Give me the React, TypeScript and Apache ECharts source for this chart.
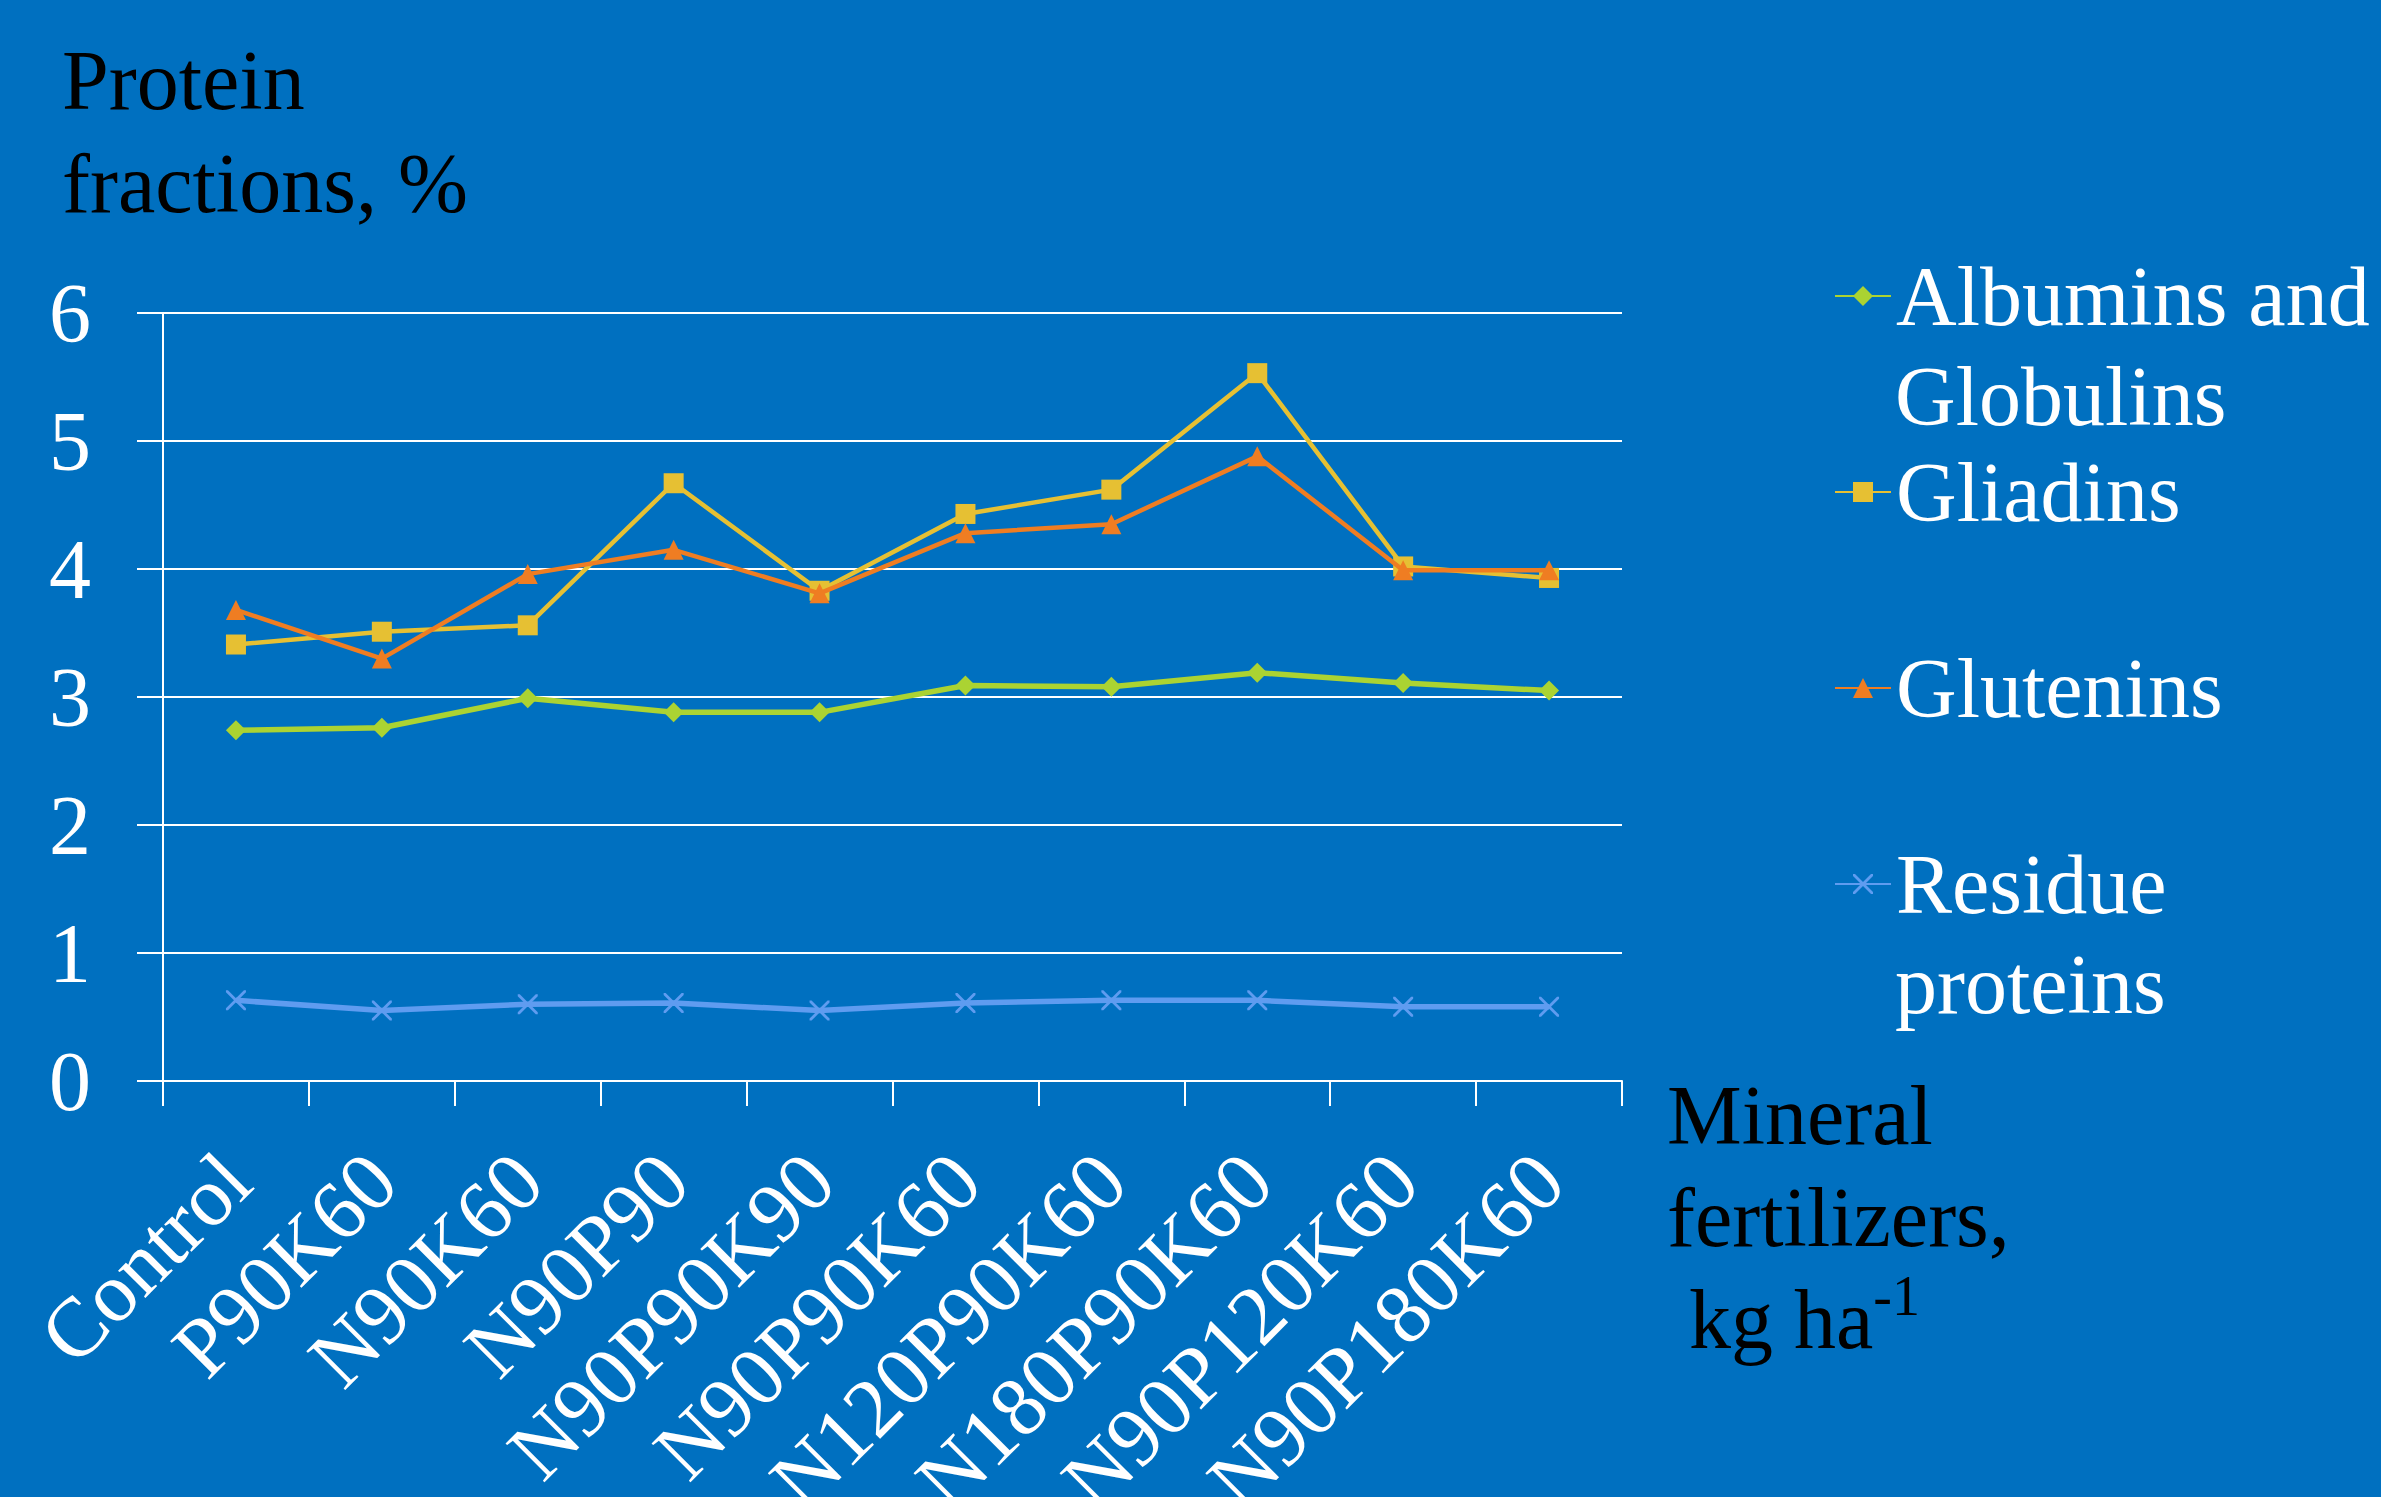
import React, { useEffect, useRef } from "react";
import * as echarts from "echarts";

const categories = [
  "Control",
  "P90K60",
  "N90K60",
  "N90P90",
  "N90P90K90",
  "N90P90K60",
  "N120P90K60",
  "N180P90K60",
  "N90P120K60",
  "N90P180K60",
];
const albuminsGlobulins = [2.74, 2.76, 2.99, 2.88, 2.88, 3.09, 3.08, 3.19, 3.11, 3.05];
const gliadins = [3.41, 3.51, 3.56, 4.67, 3.83, 4.43, 4.62, 5.53, 4.02, 3.93];
const glutenins = [3.68, 3.3, 3.96, 4.15, 3.81, 4.28, 4.35, 4.88, 3.99, 3.99];
const residueProteins = [0.63, 0.55, 0.6, 0.61, 0.55, 0.61, 0.63, 0.63, 0.58, 0.58];
const yTicks = [0, 1, 2, 3, 4, 5, 6];

const seriesNames = ["Albumins and Globulins", "Gliadins", "Glutenins", "Residue proteins"];
const legendFirstLines = ["Albumins and", "Gliadins", "Glutenins", "Residue"];
const legendSecondLines = ["Globulins", "", "", "proteins"];

const FONT = "'Liberation Serif', 'Times New Roman', Times, serif";
const BG = "#0070C0";
const WHITE = "#FFFFFF";
const COLORS = ["#ABD332", "#E6C033", "#EF7D22", "#5F9CF0"];
const X_SYMBOL =
  "path://M0,0L2,0L10,8L18,0L20,0L20,2L12,10L20,18L20,20L18,20L10,12L2,20L0,20L0,18L8,10L0,2Z";

export default function App() {
  const ref = useRef<HTMLDivElement>(null);

  useEffect(() => {
    if (!ref.current) return;
    const chart = echarts.init(ref.current, undefined, { renderer: "svg" });

    const seriesData = [albuminsGlobulins, gliadins, glutenins, residueProteins];
    const symbols = ["diamond", "rect", "triangle", X_SYMBOL];
    const widths = [5.5, 4.5, 4.5, 5.5];

    const legendTop = 246;
    const legendStep = 196;

    const option: any = {
      animation: false,
      backgroundColor: BG,
      textStyle: { fontFamily: FONT },
      grid: {
        left: 163,
        right: 2381 - 1622,
        top: 313,
        bottom: 1497 - 1081,
        containLabel: false,
        outerBoundsMode: "none",
      },
      legend: {
        orient: "vertical",
        left: 1834,
        top: legendTop,
        padding: 0,
        itemGap: legendStep - 100,
        itemWidth: 56,
        itemHeight: 25,
        selectedMode: false,
        data: seriesNames,
        formatter: (name: string) => legendFirstLines[seriesNames.indexOf(name)],
        textStyle: {
          color: WHITE,
          fontSize: 84,
          fontFamily: FONT,
          lineHeight: 100,
        },
      },
      xAxis: {
        type: "category",
        data: categories,
        boundaryGap: true,
        axisLine: { show: true, lineStyle: { color: WHITE, width: 2 } },
        axisTick: {
          show: true,
          length: 25,
          interval: 0,
          lineStyle: { color: WHITE, width: 2 },
        },
        axisLabel: {
          interval: 0,
          rotate: 45,
          margin: 86,
          color: WHITE,
          fontSize: 84,
          fontFamily: FONT,
        },
        splitLine: { show: false },
      },
      yAxis: {
        type: "value",
        min: yTicks[0],
        max: yTicks[yTicks.length - 1],
        interval: yTicks[1] - yTicks[0],
        axisLine: { show: true, lineStyle: { color: WHITE, width: 2 } },
        axisTick: { show: true, length: 26, lineStyle: { color: WHITE, width: 2 } },
        axisLabel: {
          margin: 72,
          color: WHITE,
          fontSize: 84,
          fontFamily: FONT,
        },
        splitLine: { show: true, lineStyle: { color: WHITE, width: 2 } },
      },
      series: seriesNames.map((name, i) => ({
        name,
        type: "line",
        data: seriesData[i],
        symbol: symbols[i],
        symbolSize: 20,
        showSymbol: true,
        lineStyle: { color: COLORS[i], width: widths[i] },
        itemStyle: { color: COLORS[i], borderWidth: 0 },
        emphasis: { disabled: true },
        z: 2 + i,
      })),
      graphic: [
        {
          type: "text",
          x: 62,
          y: 28.5,
          style: {
            text: "Protein\nfractions, %",
            fill: "#000000",
            fontSize: 84,
            fontFamily: FONT,
            lineHeight: 103,
            verticalAlign: "top",
            align: "left",
          },
        },
        {
          type: "text",
          x: 1667,
          y: 1064,
          style: {
            text: "Mineral\nfertilizers,",
            fill: "#000000",
            fontSize: 84,
            fontFamily: FONT,
            lineHeight: 102,
            verticalAlign: "top",
            align: "left",
          },
        },
        {
          type: "text",
          x: 1689,
          y: 1319,
          style: {
            text: "kg ha{sup|-1}",
            fill: "#000000",
            fontSize: 84,
            fontFamily: FONT,
            lineHeight: 102,
            verticalAlign: "middle",
            align: "left",
            rich: {
              sup: {
                fill: "#000000",
                fontSize: 56,
                fontFamily: FONT,
                lineHeight: 72,
                verticalAlign: "top",
              },
            },
          },
        },
        ...legendSecondLines
          .map((t, i) => ({ t, i }))
          .filter((o) => o.t)
          .map((o) => ({
            type: "text",
            x: 1895,
            y: legendTop + 50 + legendStep * o.i + 100,
            style: {
              text: o.t,
              fill: WHITE,
              fontSize: 84,
              fontFamily: FONT,
              verticalAlign: "middle",
              align: "left",
            },
          })),
      ],
    };

    chart.setOption(option);
    return () => {
      chart.dispose();
    };
  }, []);

  return (
    <div
      ref={ref}
      style={{
        position: "absolute",
        left: 0,
        top: 0,
        width: 2381,
        height: 1497,
        background: BG,
      }}
    />
  );
}
